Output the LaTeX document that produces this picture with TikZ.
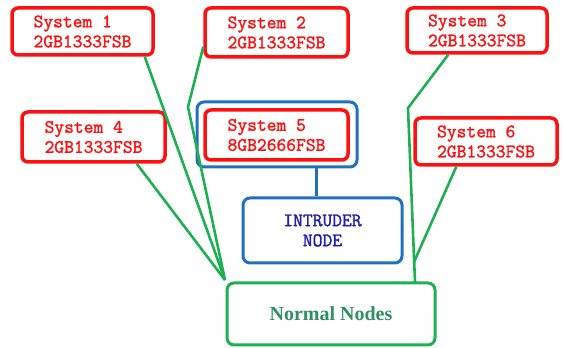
\documentclass[tikz,border=0pt]{standalone}
\usepackage{fontspec}
\newfontfamily\titlefont{Liberation Serif}
\newfontfamily\labelfont[FakeBold=1.6]{Latin Modern Mono}
\usetikzlibrary{calc}
\definecolor{sys-red}{HTML}{FF1010}
\definecolor{sys-blue}{HTML}{2070C0}
\definecolor{sys-ink}{HTML}{2020A8}
\definecolor{net-green}{HTML}{1DB050}
\definecolor{net-ink}{HTML}{2E9160}
\tikzset{
  system/.style={
    draw=sys-red, line width=3.5pt, rounded corners=6pt, fill=white,
    text=sys-red, align=left, inner sep=0pt,
    font=\labelfont\fontsize{19}{20}\selectfont
  },
  guard/.style={
    draw=sys-blue, line width=3pt, rounded corners=7pt, inner sep=0pt
  },
  intruder/.style={
    draw=sys-blue, line width=3pt, rounded corners=7pt, fill=white,
    text=sys-ink, align=center, inner sep=0pt,
    font=\labelfont\fontsize{19}{20}\selectfont
  },
  normal/.style={
    draw=net-green, line width=3pt, rounded corners=7pt, fill=white,
    text=net-ink, inner sep=0pt,
    font=\titlefont\bfseries\fontsize{20}{22}\selectfont
  },
  link/.style={
    draw=net-green, line width=2.6pt, line join=round
  },
  tie/.style={
    draw=sys-blue, line width=3pt
  }
}

\begin{document}
\begin{tikzpicture}[x=1pt, y=1pt]
        \useasboundingbox (0,0) rectangle (563,348);

        % the six systems
        \node[system, minimum width=141pt, minimum height=47pt] (sys1) at (82.5,316.5) {System 1\\2GB1333FSB};
        \node[system, minimum width=143pt, minimum height=49pt] (sys2) at (276.5,315.5) {System 2\\2GB1333FSB};
        \node[system, minimum width=140pt, minimum height=45pt] (sys3) at (477,317.5) {System 3\\2GB1333FSB};
        \node[system, minimum width=143pt, minimum height=50pt] (sys4) at (93.5,211) {System 4\\2GB1333FSB};
        \node[guard, minimum width=160pt, minimum height=65pt] (cover) at (277,213.5) {};
        \node[system, minimum width=143pt, minimum height=50pt] (sys5) at (276.5,213) {System 5\\8GB2666FSB};
        \node[system, minimum width=142pt, minimum height=47pt] (sys6) at (486,206.5) {System 6\\2GB1333FSB};

        % intruder and the normal nodes
        \node[intruder, minimum width=159pt, minimum height=65pt] (intr) at (322.5,117.5) {INTRUDER\\NODE};
        \node[normal, minimum width=208pt, minimum height=62pt] (norm) at (331,34) {Normal Nodes};

        \coordinate (hubL) at (225,68);
        \coordinate (hubR) at (415,66);
        \coordinate (bendL) at (188,241);
        \coordinate (bendR) at (408,240);
        \coordinate (joinR) at (414,86);

        \draw[tie] (intr.north -| {(316,0)}) -- (cover.south -| {(316,0)});

        \draw[link] ($(sys1.south east)+(-10,0)$) -- (hubL);
        \draw[link] ($(sys2.south west)+(0,12)$) -- (bendL) -- (hubL);
        \draw[link] ($(sys4.south east)+(-30,0)$) -- (hubL);
        \draw[link] ($(sys3.south west)+(43,0)$) -- (bendR) -- (hubR);
        \draw[link] ($(sys6.south west)+(43,0)$) -- (joinR);
      \end{tikzpicture}
\end{document}
